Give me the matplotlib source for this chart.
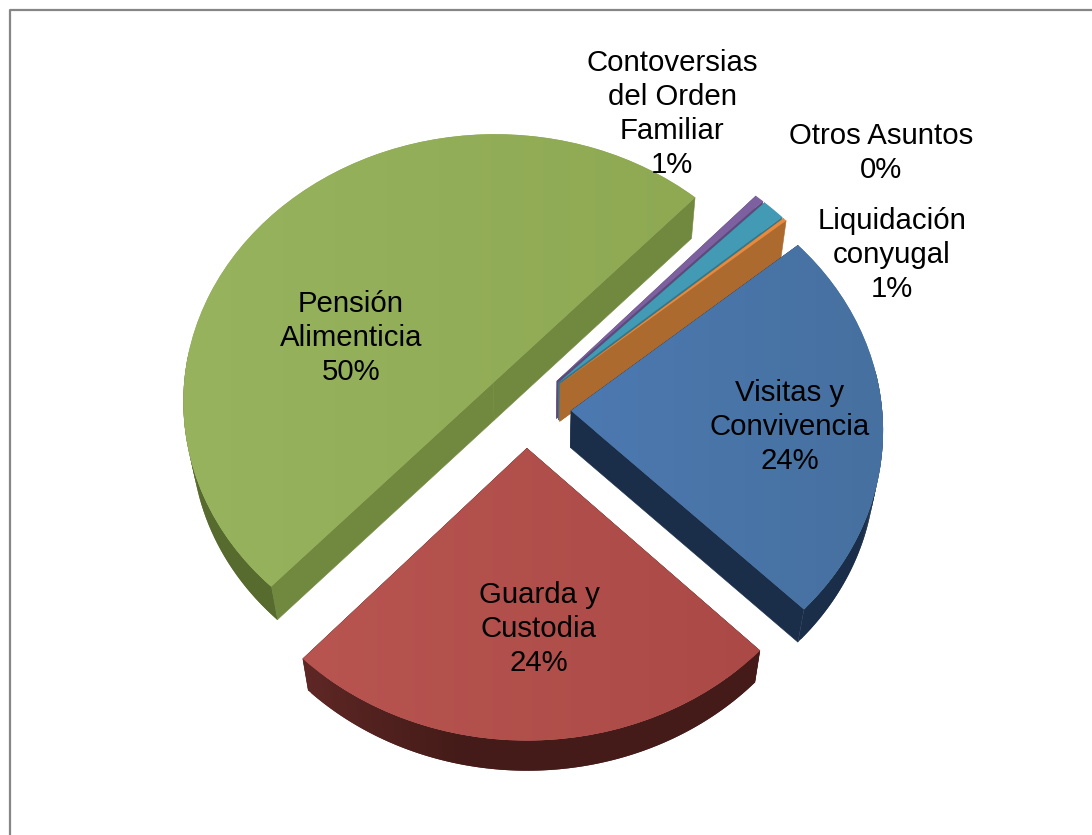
import numpy as np
import matplotlib
matplotlib.use('Agg')
import matplotlib.pyplot as plt
from matplotlib.colors import to_rgb
from matplotlib.patches import Polygon
from matplotlib.transforms import Transform

# slices, clockwise from the lower end of the green one
nombres = ['Pensión Alimenticia', 'Contoversias del Orden Familiar', 'Otros Asuntos',
           'Liquidación conyugal', 'Visitas y Convivencia', 'Guarda y Custodia']
valores = [50, 0.5, 1.3, 0.2, 23.6, 24.4]
porcentajes = ['50%', '1%', '0%', '1%', '24%', '24%']
etiquetas = ['Pensión\nAlimenticia', 'Contoversias\ndel Orden\nFamiliar', 'Otros Asuntos',
             'Liquidación\nconyugal', 'Visitas y\nConvivencia', 'Guarda y\nCustodia']

arriba_izq = ['#98B35E', '#7D60A0', '#429AB4', '#E68A40', '#4C79B1', '#B85551']
arriba_der = ['#8EA952', '#7D60A0', '#429AB4', '#E68A40', '#46709F', '#AA4946']
corte = ['#71893F', '#5E497A', '#31788C', '#AC6A2E', '#1A2E4A', '#451A18']
pared_ini = ['#647B36', '#5E497A', '#31788C', '#AC6A2E', '#1A2E4A', '#5E2725']
pared_fin = ['#586B2E', '#5E497A', '#31788C', '#AC6A2E', '#1A2E4A', '#441B18']

pos_etiq = [(351, 338), (672, 114), (881, 153), (892, 255), (790, 427), (539, 629)]


class Perspectiva(Transform):
    input_dims = 2
    output_dims = 2

    def transform_non_affine(self, xy):
        xy = np.asarray(xy, dtype=float)
        d = 1 + 0.065 * xy[:, 1]
        return np.column_stack((526 + 311 * xy[:, 0] / d, 409 - 268 * xy[:, 1] / d))


def abajo(p):
    # the lower rim of the pie
    return np.column_stack((540 + (p[:, 0] - 540) * 0.977, p[:, 1] * 0.98 + 45))


fig = plt.figure(figsize=(10.92, 8.35), dpi=100)
ax = fig.add_axes([0, 0, 1, 1])

wedges, _ = ax.pie(valores, colors=arriba_der, startangle=227.2, counterclock=False,
                   explode=[0.145] * 6, wedgeprops={'linewidth': 0})
ax.set_aspect('auto')

persp = Perspectiva()
for i, w in enumerate(wedges):
    w.set_transform(persp + ax.transData)
    w.set_zorder(2 * i + 3)

    cx, cy = w.center
    t = np.radians(np.linspace(w.theta1, w.theta2, 120))
    borde = persp.transform(np.column_stack((cx + w.r * np.cos(t), cy + w.r * np.sin(t))))
    fondo = abajo(borde)

    # the straight cut faces
    centro = persp.transform(np.array([[cx, cy]]))
    centro_b = abajo(centro)
    for k in (0, -1):
        ax.add_patch(Polygon([centro[0], borde[k], fondo[k], centro_b[0]],
                             fc=corte[i], ec=corte[i], lw=0.4, zorder=2 * i + 2))

    # outer wall on the side towards the viewer, overlapping strips so no seams show
    ini, fin = np.array(to_rgb(pared_ini[i])), np.array(to_rgb(pared_fin[i]))
    vis = np.where(np.sin(t) < 0.15)[0]
    for n, j in enumerate(vis[:-1]):
        f = min(1, n / (0.35 * len(vis)))
        j2 = vis[min(n + 2, len(vis) - 1)]
        ax.add_patch(Polygon([borde[j], borde[j2], fondo[j2], fondo[j]],
                             fc=ini + (fin - ini) * f, lw=0, zorder=2 * i + 2))

    # soft left to right shading of the top face
    if arriba_izq[i] != arriba_der[i]:
        x0 = min(borde[:, 0].min(), centro[0, 0]) - 5
        x1 = borde[:, 0].max() + 5
        c0, c1 = np.array(to_rgb(arriba_izq[i])), np.array(to_rgb(arriba_der[i]))
        grad = np.linspace(c0, c1, 256)[np.newaxis, :, :]
        im = ax.imshow(grad, extent=(x0, x1, 835, 0), aspect='auto', zorder=2 * i + 3.5)
        im.set_clip_path(w)

# frame of the chart area
ax.plot([10, 10, 1092], [835, 10, 10], color='#868686', lw=1.6, zorder=1)

for et, pct, pos in zip(etiquetas, porcentajes, pos_etiq):
    ax.text(pos[0], pos[1], et + '\n' + pct, ha='center', va='center', ma='center',
            fontsize=21.2, family='Liberation Sans', color='black', linespacing=1.28, zorder=30)

ax.set_xlim(0, 1092)
ax.set_ylim(835, 0)
ax.axis('off')

fig.savefig('out.png', dpi=100)
